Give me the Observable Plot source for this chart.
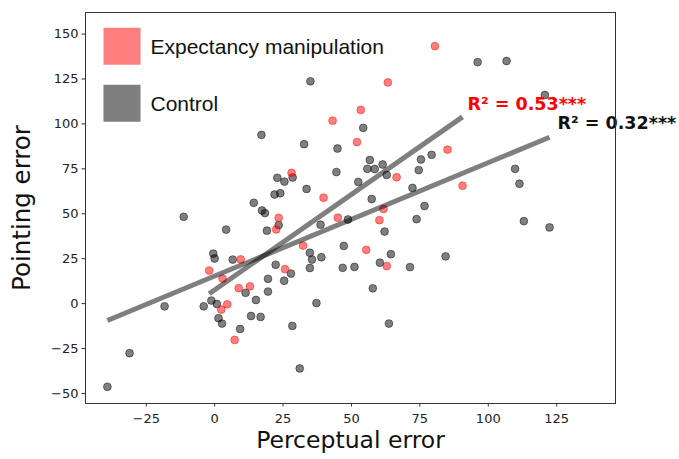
<!DOCTYPE html>
<html>
<head>
<meta charset="utf-8">
<script src="https://cdn.jsdelivr.net/npm/d3@7"></script>
<script src="https://cdn.jsdelivr.net/npm/@observablehq/plot@0.6"></script>
<style>
  html, body { margin: 0; padding: 0; background: #fff; }
  #chart { width: 679px; height: 459px; }
</style>
</head>
<body>
<div id="chart"></div>
<script>
// ---- data ----
const groups = ["Expectancy manipulation", "Control"];

const expX = [80.5, 63.3, 53.4, 43.1, 52.0, 85.1, 28.1, 66.5, 90.6, 39.8, 61.7, 23.4, 45.0, 60.2, 22.5, 32.3, 55.4, 9.5, 62.9, 25.7, -2.0, 2.9, 8.8, 12.9, 4.6, 2.4, 7.3];
const expY = [143.3, 123.1, 107.8, 101.8, 89.9, 85.7, 72.8, 70.3, 65.6, 58.9, 52.7, 47.7, 47.8, 46.4, 41.3, 32.3, 29.9, 24.6, 20.9, 19.2, 18.4, 13.9, 8.6, 9.6, -0.4, -3.3, -20.2];

const ctrlX = [35.0, 17.1, 32.7, 44.9, 44.5, 22.9, 25.5, 28.5, 33.6, 21.9, 24.0, 14.3, 17.3, 18.4, -11.3, 23.4, 19.1, 4.2, 38.7, 34.8,
  35.6, 39.0, 47.2, -0.5, 0.0, 6.6, 22.3, 27.9, 34.8, 46.8, 51.1, 19.5, 25.4, 11.3, 19.5, 15.1, -18.3, -4.0, -1.2, 0.8,
  37.2, 1.4, 2.7, 13.3, 16.8, 28.4, 9.3, -31.1, 31.1, -39.2, 96.1, 106.7, 120.7, 54.3, 56.7, 61.4, 55.8, 58.5, 62.9, 75.4,
  79.3, 74.6, 52.5, 72.3, 109.8, 111.4, 57.4, 76.7, 48.7, 73.8, 113.0, 122.4, 62.1, 64.4, 60.4, 71.4, 84.4, 57.8, 63.7];
const ctrlY = [123.7, 93.9, 88.7, 86.3, 73.2, 70.0, 67.9, 70.2, 63.8, 60.7, 61.4, 56.1, 51.8, 50.4, 48.3, 43.7, 40.6, 41.2, 43.9, 28.3,
  24.5, 25.8, 32.1, 27.8, 25.1, 24.5, 21.6, 16.7, 19.8, 19.9, 20.4, 13.8, 12.7, 6.0, 6.7, 2.0, -1.5, -1.5, 1.7, -0.2,
  0.3, -8.1, -11.1, -6.9, -7.4, -12.4, -14.1, -27.6, -36.1, -46.3, 134.4, 135.0, 116.1, 97.8, 79.9, 77.4, 75.0, 74.9, 71.6, 80.2,
  82.8, 74.3, 67.7, 64.4, 75.0, 66.7, 58.2, 54.3, 46.8, 47.0, 45.9, 42.4, 40.1, 27.5, 22.8, 20.3, 26.3, 8.5, -11.1];

const r2Labels = ["R\u00B2 = 0.53***", "R\u00B2 = 0.32***"];
const xTicks = [-25, 0, 25, 50, 75, 100, 125];
const yTicks = [-50, -25, 0, 25, 50, 75, 100, 125, 150];
const xLabel = "Perceptual error";
const yLabel = "Pointing error";

// ---- build tables ----
const expRows = expX.map((x, i) => ({group: groups[0], x, y: expY[i]}));
const ctrlRows = ctrlX.map((x, i) => ({group: groups[1], x, y: ctrlY[i]}));
const allRows = ctrlRows.concat(expRows);

function fitEnd(xs, ys, label) {
  const mx = d3.mean(xs), my = d3.mean(ys);
  let sxy = 0, sxx = 0;
  xs.forEach((x, i) => { sxy += (x - mx) * (ys[i] - my); sxx += (x - mx) ** 2; });
  const b = sxy / sxx, a = my - b * mx;
  const xe = d3.max(xs);
  return [{x: xe, y: a + b * xe, label}];
}
const expEnd = fitEnd(expX, expY, r2Labels[0]);
const ctrlEnd = fitEnd(ctrlX, ctrlY, r2Labels[1]);

const font = "DejaVu Sans, sans-serif";
const legendFont = "Liberation Sans, Arial, sans-serif";

const chart = Plot.plot({
  width: 679,
  height: 459,
  marginLeft: 85,
  marginRight: 64,
  marginTop: 12,
  marginBottom: 56,
  style: {fontFamily: font, color: "#222", background: "#fff", overflow: "visible"},
  x: {domain: [-47.2, 146.5]},
  y: {domain: [-55.6, 162]},
  marks: [
    Plot.axisX({ticks: xTicks, tickSize: 3.5, tickPadding: 7, fontSize: 13, label: null, tickFormat: d3.format("d"), stroke: "#333"}),
    Plot.axisY({ticks: yTicks, tickSize: 3.5, tickPadding: 3.5, fontSize: 13, label: null, tickFormat: d3.format("d"), stroke: "#333"}),
    Plot.dot(ctrlRows, {x: "x", y: "y", r: 3.9, fill: "black", fillOpacity: 0.5, stroke: "black", strokeOpacity: 0.45, strokeWidth: 1}),
    Plot.dot(expRows, {x: "x", y: "y", r: 3.9, fill: "red", fillOpacity: 0.5, stroke: "red", strokeOpacity: 0.45, strokeWidth: 1}),
    Plot.linearRegressionY(allRows, {x: "x", y: "y", z: "group", ci: 0, stroke: "black", strokeOpacity: 0.5, strokeWidth: 5, strokeLinecap: "butt"}),
    Plot.text(expEnd, {x: "x", y: "y", text: "label", dx: 5, dy: -12, textAnchor: "start", fill: "red", fontWeight: "bold", fontSize: 17.5}),
    Plot.text(ctrlEnd, {x: "x", y: "y", text: "label", dx: 8, dy: -14, textAnchor: "start", fill: "#111", fontWeight: "bold", fontSize: 17.5}),
    // legend
    Plot.dot([groups[0]], {frameAnchor: "top-left", dx: 36.5, dy: 33.8, r: 20.9, symbol: "square", fill: "red", fillOpacity: 0.5}),
    Plot.dot([groups[1]], {frameAnchor: "top-left", dx: 36.5, dy: 90.8, r: 20.9, symbol: "square", fill: "black", fillOpacity: 0.5}),
    Plot.text([groups[0]], {text: d => d, frameAnchor: "top-left", dx: 65, dy: 34.5, textAnchor: "start", lineAnchor: "middle", fontSize: 21, fontFamily: legendFont, fill: "#111"}),
    Plot.text([groups[1]], {text: d => d, frameAnchor: "top-left", dx: 65, dy: 91.5, textAnchor: "start", lineAnchor: "middle", fontSize: 21, fontFamily: legendFont, fill: "#111"}),
    // axis titles
    Plot.text([xLabel], {text: d => d, frameAnchor: "bottom", dy: 37, textAnchor: "middle", lineAnchor: "middle", fontSize: 23.5, fill: "#111"}),
    Plot.text([yLabel], {text: d => d, frameAnchor: "left", dx: -63, rotate: -90, textAnchor: "middle", lineAnchor: "middle", fontSize: 24.5, fill: "#111"}),
    Plot.frame({stroke: "#333", strokeWidth: 1})
  ]
});
document.getElementById("chart").appendChild(chart);
</script>
</body>
</html>
